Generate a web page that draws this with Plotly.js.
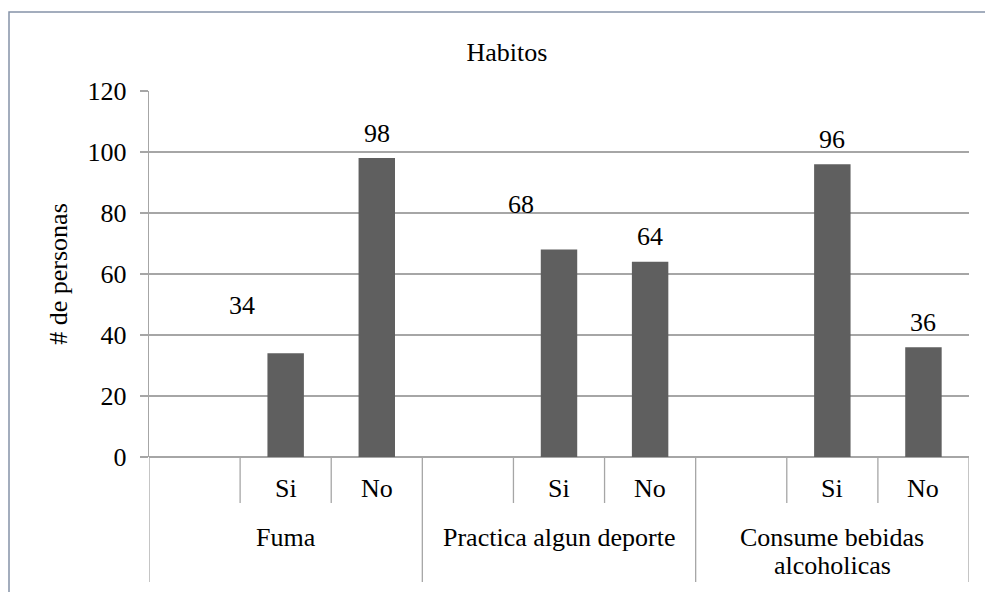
<!DOCTYPE html>
<html>
<head>
<meta charset="utf-8">
<script src="https://cdn.plot.ly/plotly-3.0.1.min.js"></script>
<style>
  html, body { margin: 0; padding: 0; background: #ffffff; }
  #chart { width: 985px; height: 592px; }
  #chart svg text { font-family: "Liberation Serif", "Times New Roman", serif !important; }
</style>
</head>
<body>
<div id="chart"></div>
<script>
// ---- data ----
const chartTitle = "Habitos";
const yTitle = "# de personas";
const groups = ["Fuma", "Practica algun deporte", "Consume bebidas\nalcoholicas"];
const answers = ["Si", "No"];
const siCounts = [34, 68, 96];
const noCounts = [98, 64, 36];
const yTicks = [0, 20, 40, 60, 80, 100, 120];

// ---- geometry / styling ----
const figW = 985, figH = 592;
const mg = { l: 149, r: 16, t: 91, b: 135 };
const plotW = figW - mg.l - mg.r;
const plotH = figH - mg.t - mg.b;
const serifFace = "Liberation Serif";
const textSize = 26;
const gridGray = "#a6a6a6";
const barGray = "#5f5f5f";
const txt = () => ({ family: serifFace, size: textSize, color: "#000" });

// every group occupies three slots: an empty one, then Si and No
const SLOTS = 3;
const xs = [], ys = [];
groups.forEach((g, i) => {
  xs.push(i * SLOTS + 1, i * SLOTS + 2);
  ys.push(siCounts[i], noCounts[i]);
});

// label nudges (px) for each bar, in the same order as xs/ys
const labelShift = [[-44, 48], [0, 25], [-38, 45], [0, 25], [0, 25], [0, 25]];

const annotations = [];
xs.forEach((x, k) => {
  annotations.push({
    x: x, y: ys[k], xref: "x", yref: "y",
    text: String(ys[k]), showarrow: false,
    xanchor: "center", yanchor: "middle",
    xshift: labelShift[k][0], yshift: labelShift[k][1],
    font: txt()
  });
});

// answer labels under each bar
xs.forEach((x, k) => {
  annotations.push({
    x: x, y: 0, xref: "x", yref: "paper",
    text: answers[k % 2], showarrow: false,
    xanchor: "center", yanchor: "middle", yshift: -31,
    font: txt()
  });
});

// group labels, one annotation per text line
groups.forEach((g, i) => {
  g.split("\n").forEach((line, j) => {
    annotations.push({
      x: i * SLOTS + 1, y: 0, xref: "x", yref: "paper",
      text: line, showarrow: false,
      xanchor: "center", yanchor: "middle", yshift: -80 - j * 28,
      font: txt()
    });
  });
});

// category dividers below the axis: short between answers, long between groups
const shapes = [];
for (let k = 0; k <= groups.length * SLOTS; k++) {
  const long = k % SLOTS === 0;
  shapes.push({
    type: "line", xref: "x", yref: "paper",
    x0: k - 0.5, x1: k - 0.5,
    y0: 0, y1: -(long ? 125 : 46) / plotH,
    line: { color: gridGray, width: 1.3 }
  });
}

// chart frame
shapes.push({
  type: "rect", xref: "paper", yref: "paper",
  x0: (9 - mg.l) / plotW, x1: (figW + 20 - mg.l) / plotW,
  y0: -(figH + 20 - (mg.t + plotH)) / plotH, y1: (mg.t + plotH - 12) / plotH,
  line: { color: "#8593a8", width: 1.5 }, fillcolor: "rgba(0,0,0,0)"
});

const trace = {
  type: "bar",
  x: xs, y: ys,
  width: 0.4,
  marker: { color: barGray, line: { width: 0 } },
  hoverinfo: "skip"
};

const layout = {
  width: figW, height: figH,
  margin: mg,
  paper_bgcolor: "#ffffff",
  plot_bgcolor: "#ffffff",
  showlegend: false,
  font: txt(),
  title: {
    text: chartTitle,
    x: 507 / figW, xref: "container", xanchor: "center",
    y: 1 - 52 / figH, yref: "container", yanchor: "middle",
    font: txt()
  },
  xaxis: {
    range: [-0.5, groups.length * SLOTS - 0.5],
    showgrid: false, zeroline: false, showline: false,
    showticklabels: false, ticks: "", fixedrange: true
  },
  yaxis: {
    range: [0, 120],
    tickvals: yTicks,
    ticktext: yTicks.map(String),
    showgrid: true, gridcolor: gridGray, gridwidth: 1.3,
    zeroline: true, zerolinecolor: gridGray, zerolinewidth: 1.3,
    showline: true, linecolor: gridGray, linewidth: 1.3,
    ticks: "outside", ticklen: 8, tickcolor: gridGray, tickwidth: 1.3,
    ticklabelstandoff: 8,
    tickfont: txt(),
    title: { text: yTitle, standoff: 12, font: txt() },
    fixedrange: true
  },
  annotations: annotations,
  shapes: shapes
};

Plotly.newPlot("chart", [trace], layout, { displayModeBar: false, staticPlot: true });
</script>
</body>
</html>
